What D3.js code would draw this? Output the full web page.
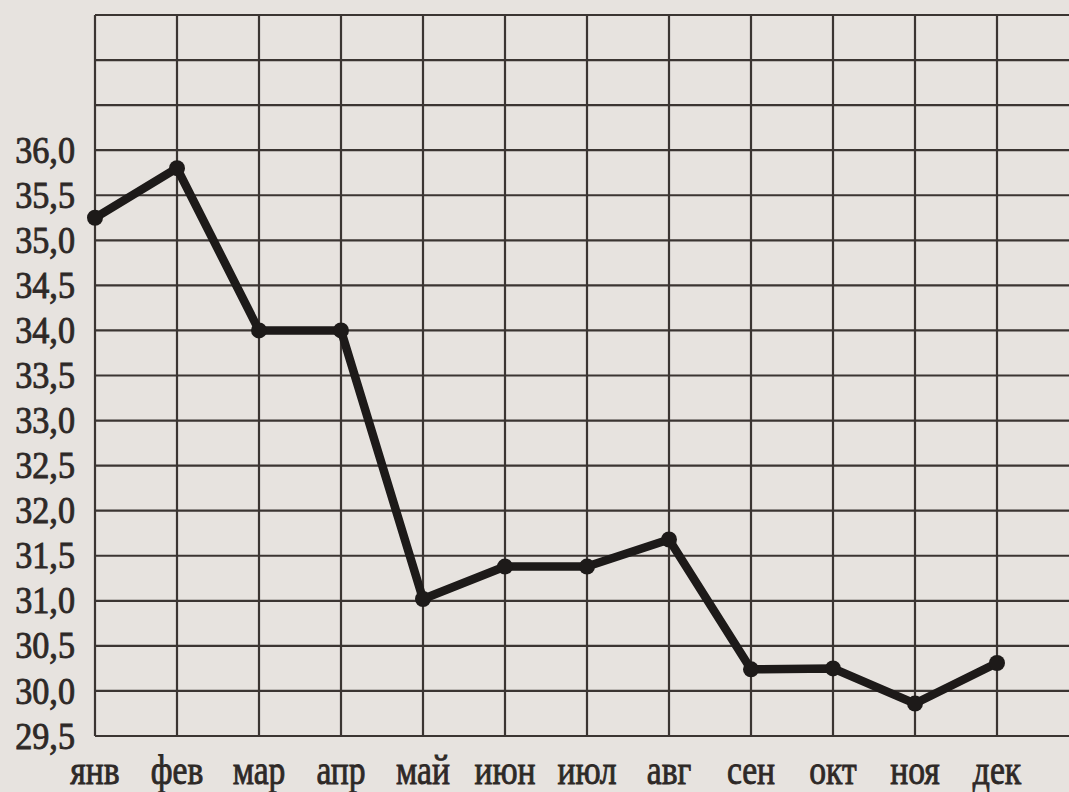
<!DOCTYPE html>
<html><head><meta charset="utf-8">
<script src="https://cdn.jsdelivr.net/npm/d3@7"></script>
<style>
html,body{margin:0;padding:0;background:#e7e3df;}
svg{display:block;}
</style></head>
<body>
<svg id="c" width="1069" height="792"></svg>
<script>
const months = ["янв","фев","мар","апр","май","июн","июл","авг","сен","окт","ноя","дек"];
const values = [35.25, 35.8, 34.0, 34.0, 31.02, 31.38, 31.38, 31.68, 30.24, 30.25, 29.86, 30.31];
const gridTicks = d3.range(29.5, 37.51, 0.5);
const labelTicks = [29.5,30.0,30.5,31.0,31.5,32.0,32.5,33.0,33.5,34.0,34.5,35.0,35.5,36.0];

const svg = d3.select("#c");
svg.append("rect").attr("width",1069).attr("height",792).attr("fill","#e7e3df");

const x = d3.scalePoint().domain(months).range([95, 997]);
const y = d3.scaleLinear().domain([29.5, 37.5]).range([736, 15]);
const gridColor = "#3b3532";
const textColor = "#2e2927";

const g = svg.append("g");
g.selectAll("line.h").data(gridTicks).join("line")
  .attr("x1", 95).attr("x2", 1069)
  .attr("y1", d => y(d)).attr("y2", d => y(d))
  .attr("stroke", gridColor).attr("stroke-width", 2.2);
g.selectAll("line.v").data(months).join("line")
  .attr("x1", d => x(d)).attr("x2", d => x(d))
  .attr("y1", y(37.5)).attr("y2", y(29.5))
  .attr("stroke", gridColor).attr("stroke-width", 2.2);

const fmt = v => v.toFixed(1).replace(".", ",");
svg.append("g").selectAll("text").data(labelTicks).join("text")
  .attr("transform", d => `translate(75,${y(d)}) scale(0.9,1)`)
  .attr("text-anchor","end").attr("dominant-baseline","central")
  .attr("font-family","Liberation Serif, Times New Roman, serif")
  .attr("font-size", 38).attr("fill",textColor)
  .attr("stroke",textColor).attr("stroke-width",0.9)
  .text(fmt);

svg.append("g").selectAll("text").data(months).join("text")
  .attr("transform", d => `translate(${x(d)},784) scale(0.8,1)`)
  .attr("text-anchor","middle")
  .attr("font-family","Liberation Serif, Times New Roman, serif")
  .attr("font-size", 42).attr("fill",textColor)
  .attr("stroke",textColor).attr("stroke-width",0.9)
  .text(d => d);

const line = d3.line().x((d,i) => x(months[i])).y(d => y(d));
svg.append("path").datum(values).attr("d", line)
  .attr("fill","none").attr("stroke","#1d1a19").attr("stroke-width", 8.5)
  .attr("stroke-linejoin","round");
svg.append("g").selectAll("circle").data(values).join("circle")
  .attr("cx", (d,i) => x(months[i])).attr("cy", d => y(d)).attr("r", 8)
  .attr("fill","#1d1a19");
</script>
</body></html>
